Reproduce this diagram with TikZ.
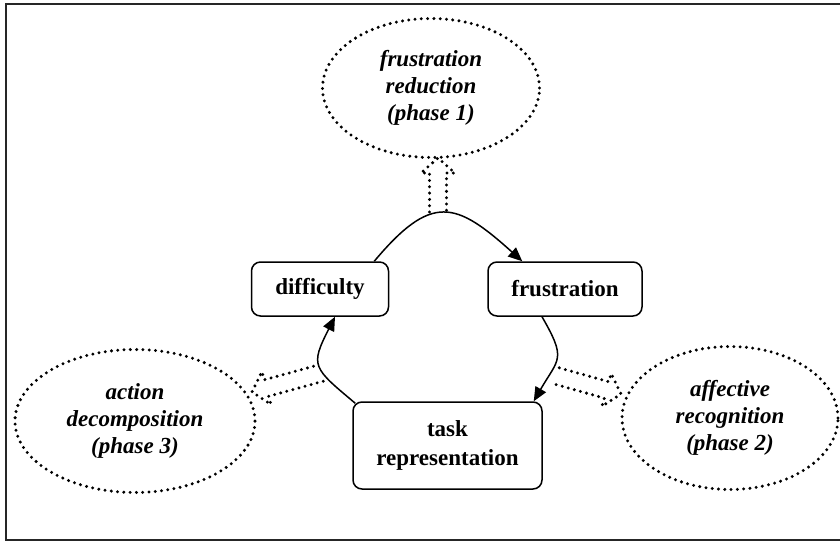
\documentclass[tikz,border=0pt]{standalone}
\usepackage{fontspec}
\setmainfont{Liberation Serif}
\usetikzlibrary{shapes.geometric,arrows.meta,calc}
\newcommand\hollowarrow[2]{%
  \coordinate (#1b) at ($(#2)!15pt!(#1)$);
  \draw[hollow] ($(#1)!8.5pt!90:(#2)$) -- ($(#1b)!8.5pt!90:(#2)$) -- ($(#1b)!17pt!90:(#2)$) -- (#2)
     -- ($(#1b)!17pt!-90:(#2)$) -- ($(#1b)!8.5pt!-90:(#2)$) -- ($(#1)!8.5pt!-90:(#2)$);}
\begin{document}
\begin{tikzpicture}[x=1pt,y=1pt,
 box/.style={draw, line width=1.5pt, rounded corners=9pt, inner sep=0pt, align=center,
   font=\fontsize{23}{29}\selectfont\bfseries},
 bubble/.style={ellipse, draw, line width=3.3pt, dash pattern=on 0pt off 6.3pt, line cap=round,
   inner sep=0pt, align=center, font=\fontsize{23}{27}\selectfont\bfseries\itshape},
 hollow/.style={line width=3.3pt, dash pattern=on 0pt off 6.3pt, line cap=round, line join=round},
 flow/.style={line width=1.5pt, -{Triangle[length=14pt,width=12pt]}}]
\useasboundingbox (0,0) rectangle (840,542);
\draw[line width=1.8pt, black!85] (845,538) -- (6,538) -- (6,2) -- (845,2);

\node[box, minimum width=137pt, minimum height=54pt] (diff) at (320,253) {difficulty};
\node[box, minimum width=154pt, minimum height=54pt] (frus) at (565,253) {frustration};
\node[box, minimum width=189pt, minimum height=87pt] (task) at (447.5,96.5) {task\\representation};

\node[bubble, minimum width=217pt, minimum height=139pt] (red) at (431,454) {frustration\\reduction\\(phase 1)};
\node[bubble, minimum width=240pt, minimum height=143pt] (dec) at (135,121) {action\\decomposition\\(phase 3)};
\node[bubble, minimum width=216pt, minimum height=143pt] (rec) at (730,124) {affective\\recognition\\(phase 2)};

\draw[flow] ([xshift=-15pt]diff.north east) to[out=50,in=138,looseness=1.55] ([xshift=35pt]frus.north west);
\draw[flow] ([xshift=-23pt]frus.south) to[out=-60,in=60,looseness=1.5] ([xshift=-9pt]task.north east);
\draw[flow] ([xshift=3pt,yshift=-2pt]task.north west) to[out=140,in=-117,looseness=1.6] ([xshift=15pt]diff.south);

\coordinate (tT) at (438,330);
\coordinate (tP) at (438,384);
\coordinate (lT) at (321,169);
\coordinate (lP) at (252,150);
\coordinate (rT) at (557,166);
\coordinate (rP) at (621,148);
\hollowarrow{tT}{tP}
\hollowarrow{lT}{lP}
\hollowarrow{rT}{rP}
\end{tikzpicture}
\end{document}
